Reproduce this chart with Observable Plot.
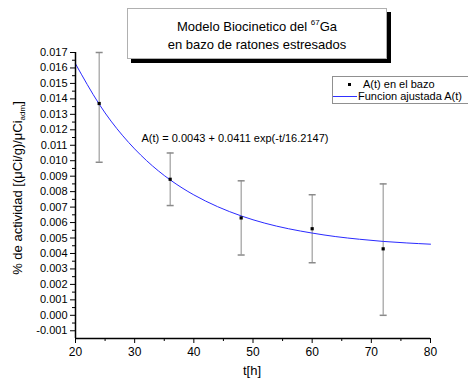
<!DOCTYPE html>
<html>
<head>
<meta charset="utf-8">
<script src="https://cdn.jsdelivr.net/npm/d3@7"></script>
<script src="https://cdn.jsdelivr.net/npm/@observablehq/plot@0.6"></script>
<style>
  html, body { margin: 0; padding: 0; background: #fff; }
  #wrap { position: relative; width: 468px; height: 383px; overflow: hidden; font-family: "Liberation Sans", Arial, sans-serif; }
  #title { position: absolute; left: 127px; top: 8px; width: 260px; border: 1px solid #b0b0b0; background: #fff;
           box-shadow: 4px 4px 0 #000; text-align: center; font-size: 13px; line-height: 18px; color: #000; padding-top: 9px; box-sizing: border-box; height: 51px; }
  #title sup { font-size: 8px; vertical-align: 6px; line-height: 0; }
  #legend { position: absolute; left: 332px; top: 76px; width: 160px; height: 26px; border: 1px solid #909090; background: #fff; font-size: 11px; line-height: 11px; color: #000; }
  #legend .row { position: absolute; left: 0; white-space: nowrap; }
  #legend .sq { position: absolute; width: 3px; height: 3px; background: #000; }
  #legend .ln { position: absolute; height: 1px; background: #3030ff; }
</style>
</head>
<body>
<div id="wrap">
  <div id="chart"></div>
  <div id="title">Modelo Biocinetico del <sup>67</sup>Ga<br>en bazo de ratones estresados</div>
  <div id="legend">
    <span class="sq" style="left:15px; top:6px;"></span>
    <span class="row" style="left:30px; top:2px;">A(t) en el bazo</span>
    <span class="ln" style="left:0px; top:19px; width:24px;"></span>
    <span class="row" style="left:25px; top:14px;">Funcion ajustada A(t)</span>
  </div>
</div>
<script>
// Measured data (time in hours, activity)
const times = [24, 36, 48, 60, 72];
const activity = [0.0137, 0.0088, 0.0063, 0.0056, 0.0043];
const errLow = [0.0099, 0.0071, 0.0039, 0.0034, 0.0000];
const errHigh = [0.0170, 0.0105, 0.0087, 0.0078, 0.0085];

// Fitted curve values
const fitTimes = [20, 24, 28, 32, 36, 40, 44, 48, 52, 56, 60, 64, 68, 72, 76, 80];
const fitValues = [0.01627, 0.01366, 0.01161, 0.01001, 0.00876, 0.00779, 0.00703, 0.00643,
                   0.00596, 0.00560, 0.00532, 0.00509, 0.00492, 0.00478, 0.00468, 0.00460];

// Tick labels
const xTicks = [20, 30, 40, 50, 60, 70, 80];
const xMinorTicks = [25, 35, 45, 55, 65, 75];
const yTicks = [-0.001, 0.000, 0.001, 0.002, 0.003, 0.004, 0.005, 0.006, 0.007, 0.008, 0.009,
                0.010, 0.011, 0.012, 0.013, 0.014, 0.015, 0.016, 0.017];
const yMinorTicks = [-0.0005, 0.0005, 0.0015, 0.0025, 0.0035, 0.0045, 0.0055, 0.0065, 0.0075, 0.0085,
                     0.0095, 0.0105, 0.0115, 0.0125, 0.0135, 0.0145, 0.0155, 0.0165];
const annotation = "A(t) = 0.0043 + 0.0411 exp(-t/16.2147)";

const points = times.map((t, i) => ({t, a: activity[i], lo: errLow[i], hi: errHigh[i]}));
const fit = fitTimes.map((t, i) => ({t, a: fitValues[i]}));

const capSymbol = { draw(ctx) { ctx.moveTo(-3.5, 0); ctx.lineTo(3.5, 0); } };

const chart = Plot.plot({
  width: 468,
  height: 383,
  marginLeft: 75,
  marginRight: 38,
  marginTop: 52,
  marginBottom: 45,
  style: { fontFamily: "Liberation Sans, Arial, sans-serif", fontSize: "11px", color: "#000", background: "transparent" },
  x: { domain: [20, 80] },
  y: { domain: [-0.0015, 0.017] },
  marks: [
    Plot.ruleX(points, { x: "t", y1: "lo", y2: "hi", stroke: "#8a8a8a", strokeWidth: 1 }),
    Plot.dot(points, { x: "t", y: "lo", symbol: capSymbol, stroke: "#8a8a8a", fill: "none", r: 3 }),
    Plot.dot(points, { x: "t", y: "hi", symbol: capSymbol, stroke: "#8a8a8a", fill: "none", r: 3 }),
    Plot.line(fit, { x: "t", y: "a", stroke: "#2a2aff", strokeWidth: 1, curve: "natural" }),
    Plot.dot(points, { x: "t", y: "a", symbol: "square", fill: "#000", r: 1.8 }),
    Plot.text([annotation], { frameAnchor: "top-left", dx: 66, dy: 86, textAnchor: "start", lineAnchor: "middle", fontSize: 11, fill: "#000" }),
    Plot.axisX({ ticks: xTicks, tickSize: 5, tickPadding: 4, tickFormat: d => String(d), label: null, fontSize: 12 }),
    Plot.axisX({ ticks: xMinorTicks, tickSize: 3, tickFormat: () => "", label: null }),
    Plot.axisY({ ticks: yTicks, tickSize: 5, tickPadding: 3, tickFormat: d => d.toFixed(3), label: null, fontSize: 11 }),
    Plot.axisY({ ticks: yMinorTicks, tickSize: 3, tickFormat: () => "", label: null }),
    Plot.ruleX([20], { stroke: "#000", strokeWidth: 1.5 }),
    Plot.ruleY([-0.0015], { stroke: "#000", strokeWidth: 1.5 })
  ]
});
document.getElementById("chart").appendChild(chart);

const svg = d3.select(chart);
svg.append("text")
  .attr("x", 252).attr("y", 372)
  .attr("text-anchor", "middle").attr("dominant-baseline", "middle")
  .attr("font-size", 13).attr("fill", "#000")
  .text("t[h]");

const yl = svg.append("text")
  .attr("transform", "translate(22,188) rotate(-90)")
  .attr("text-anchor", "middle")
  .attr("font-size", 13).attr("fill", "#000");
yl.append("tspan").text("% de actividad [(\u03bcCi/g)/\u03bcCi");
yl.append("tspan").attr("font-size", 8).attr("dy", 3).text("adm");
yl.append("tspan").attr("dy", -3).text("]");
</script>
</body>
</html>
